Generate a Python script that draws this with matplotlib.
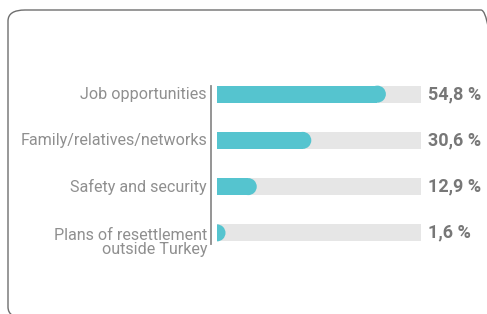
import matplotlib.pyplot as plt
from matplotlib.lines import Line2D
from matplotlib.patches import FancyBboxPatch, Ellipse

# data
labels = ['Job opportunities', 'Family/relatives/networks', 'Safety and security',
          'Plans of resettlement\noutside Turkey']
values = [54.8, 30.6, 12.9, 1.6]
value_text = ['54,8 %', '30,6 %', '12,9 %', '1,6 %']

W, H = 487, 314
fig = plt.figure(figsize=(W / 100, H / 100), dpi=100)
fig.patch.set_facecolor('white')

# rounded frame
fig.add_artist(FancyBboxPatch((8 / W, 1 - 318 / H), 490 / W, 308 / H,
                              boxstyle='round,pad=0,rounding_size=0.035',
                              transform=fig.transFigure, facecolor='none',
                              edgecolor='#6e6e6e', linewidth=1.0, clip_on=False))

# axes: grey track spans 217..421 px
xmax = 66.2
ax = fig.add_axes([217 / W, 1 - 256 / H, (421 - 217) / W, (256 - 71) / H])
ax.set_xlim(0, xmax)
ax.set_ylim(3.5, -0.5)
ax.axis('off')

bar_h_px = 17
px_per_unit = (421 - 217) / xmax
r = bar_h_px / 2 / px_per_unit
y = list(range(len(values)))
bh = bar_h_px / 46.25

ax.barh(y, [xmax] * len(y), height=bh, color='#e6e6e6', linewidth=0)
for yi, v in zip(y, values):
    end = max(v - r, 0)
    # square body + round cap (left half of the cap hidden by the axis clip)
    ax.barh(yi, end, height=bh, color='#55c4cf', linewidth=0)
    cap = Ellipse((end, yi), 2 * r, bh, facecolor='#55c4cf', linewidth=0)
    ax.add_patch(cap)
    cap.set_clip_path(ax.patch)

for yi, lab, vt in zip(y, labels, value_text):
    ax.text(-10 / px_per_unit, yi + (0.2 if '\n' in lab else 0), lab, ha='right', va='center',
            fontsize=11.6, color='#8f8f8f', family='Roboto', fontweight='normal',
            linespacing=0.9)
    ax.text(xmax + 7 / px_per_unit, yi, vt, ha='left', va='center', fontsize=13,
            color='#777777', family='Roboto', fontweight='bold')

# vertical separator
fig.add_artist(Line2D([211 / W, 211 / W], [1 - 86 / H, 1 - 244 / H], color='#8c8c8c',
                      linewidth=1.3))

fig.savefig('out.png', dpi=100)
